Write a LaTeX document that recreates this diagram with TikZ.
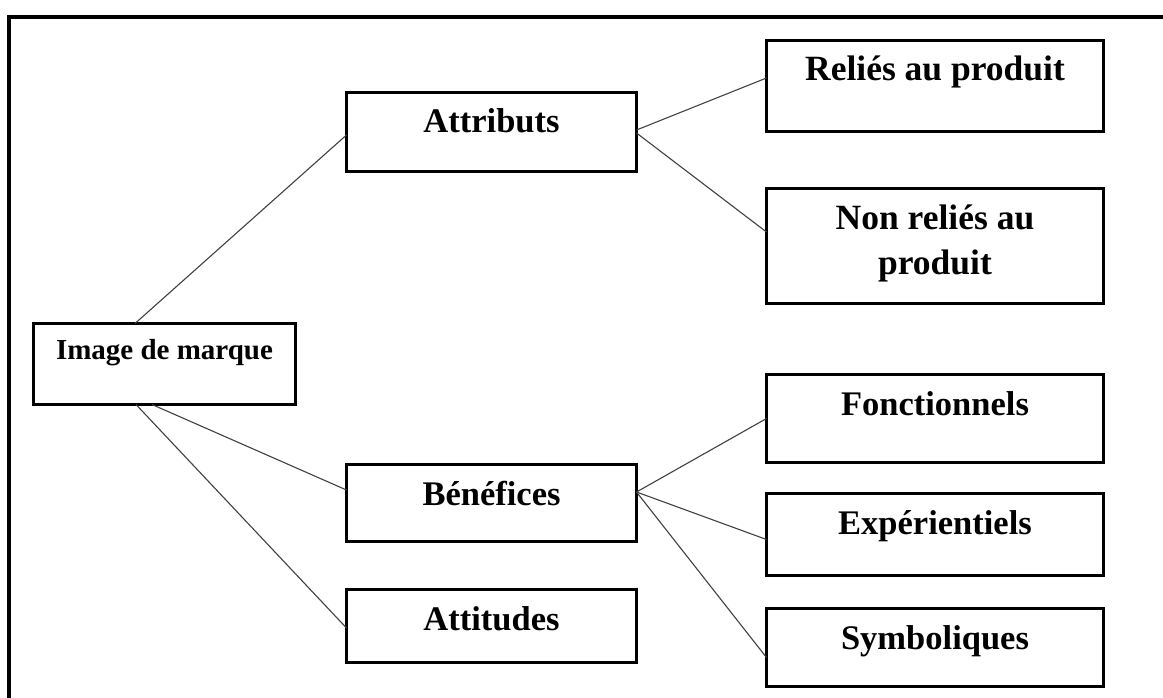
\documentclass[tikz,border=0pt]{standalone}
\usepackage{fontspec}
\setmainfont{Liberation Serif}
\usetikzlibrary{calc}
\begin{document}
\begin{tikzpicture}[x=1pt,y=-1pt,
 box/.style={draw=black, line width=3.5pt, inner sep=0pt, outer sep=0pt, rectangle},
 lbl/.style={anchor=base, inner sep=0pt, font=\fontsize{34.5}{45}\selectfont\bfseries, align=center},
 lblsmall/.style={lbl, font=\fontsize{29}{36}\selectfont\bfseries},
 conn/.style={draw=black!75, line width=1.1pt}]
\useasboundingbox (0,0) rectangle (1163,698);
\draw[line width=4pt] (8.5,698) -- (8.5,17.5) -- (1163,17.5);
% boxes
\node[box, minimum width=262, minimum height=81] (img) at (164.5,364) {};
\node[box, minimum width=290, minimum height=79] (att) at (491.5,132) {};
\node[box, minimum width=290, minimum height=77] (ben) at (491.5,503) {};
\node[box, minimum width=290, minimum height=73] (atd) at (491.5,626) {};
\node[box, minimum width=337, minimum height=91] (rel) at (935,86) {};
\node[box, minimum width=337, minimum height=115] (non) at (935,246) {};
\node[box, minimum width=337, minimum height=88] (fon) at (935,418.5) {};
\node[box, minimum width=337, minimum height=82] (exp) at (935,534.5) {};
\node[box, minimum width=337, minimum height=78] (sym) at (935,647.5) {};
% labels
\node[lblsmall] (timg) at ($(img.north)+(0,35.5)$) {Image de marque};
\node[lbl] (tatt) at ($(att.north)+(0,40.5)$) {Attributs};
\node[lbl] (tben) at ($(ben.north)+(0,40.5)$) {Bénéfices};
\node[lbl] (tatd) at ($(atd.north)+(0,40.5)$) {Attitudes};
\node[lbl, font=\fontsize{35.5}{45}\selectfont\bfseries] (trel) at ($(rel.north)+(0,40.5)$) {Reliés au produit};
\node[lbl, font=\fontsize{35.5}{45}\selectfont\bfseries] (tnon) at ($(non.north)+(0,85.5)$) {Non reliés au\\produit};
\node[lbl] (tfon) at ($(fon.north)+(0,40.5)$) {Fonctionnels};
\node[lbl] (texp) at ($(exp.north)+(0,40.5)$) {Expérientiels};
\node[lbl] (tsym) at ($(sym.north)+(0,40.5)$) {Symboliques};
% connectors
\draw[conn] ($(img.north west)+(101.5,0)$) -- ($(att.west)+(0,3)$);
\draw[conn] ($(img.south west)+(118.5,0)$) -- ($(ben.west)+(0,-13)$);
\draw[conn] ($(img.south west)+(102.5,0)$) -- ($(atd.west)+(0,2)$);
\draw[conn] ($(att.east)+(0,-2)$) -- ($(rel.west)+(0,-8)$);
\draw[conn] ($(att.east)+(0,1)$) -- ($(non.west)+(0,-14)$);
\draw[conn] ($(ben.east)+(0,-11)$) -- ($(fon.west)+(0,0)$);
\draw[conn] ($(ben.east)+(0,-11)$) -- ($(exp.west)+(0,5)$);
\draw[conn] ($(ben.east)+(0,-11)$) -- ($(sym.west)+(0,10)$);
\end{tikzpicture}
\end{document}
